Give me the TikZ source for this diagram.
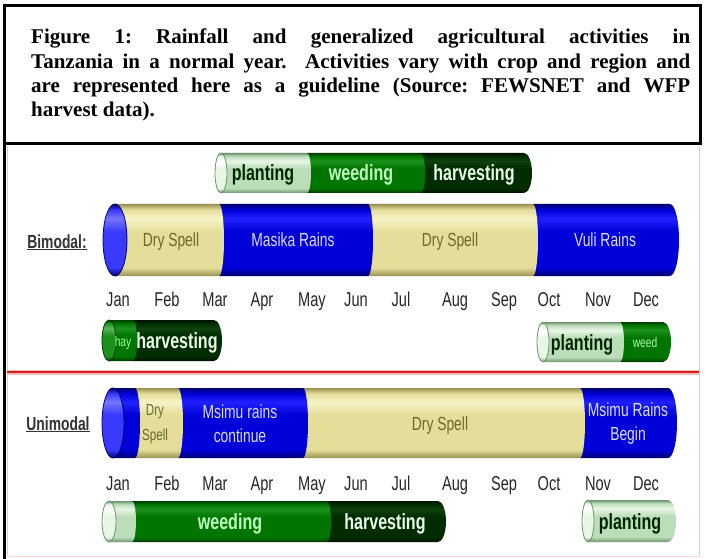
\documentclass[tikz,border=0pt]{standalone}
\usepackage{fontspec}
\setmainfont{Liberation Serif}
\newfontfamily\cond[FakeStretch=0.73]{Liberation Sans}
\definecolor{bluedk}{HTML}{000070}
\definecolor{bluebs}{HTML}{0000D8}
\definecolor{bluelt}{HTML}{2020FF}
\definecolor{bluefc}{HTML}{3A3AFF}
\definecolor{tandk}{HTML}{9A9250}
\definecolor{tanbs}{HTML}{E4DE9A}
\definecolor{tanlt}{HTML}{F6F4C6}
\definecolor{lgdk}{HTML}{6E926E}
\definecolor{lgbs}{HTML}{BCDDBA}
\definecolor{lglt}{HTML}{E8F6E5}
\definecolor{mgdk}{HTML}{003C00}
\definecolor{mgbs}{HTML}{007600}
\definecolor{mglt}{HTML}{1C921C}
\definecolor{dgdk}{HTML}{001200}
\definecolor{dgbs}{HTML}{002C00}
\definecolor{dglt}{HTML}{0E420E}
\definecolor{bluetxt}{HTML}{DCDCFF}
\definecolor{tantxt}{HTML}{6A6A30}
\definecolor{myred}{HTML}{D82020}
\newcommand\mkcyl[4]{\pgfdeclareverticalshading{#1}{100bp}{color(0bp)=(#2); color(25bp)=(#2); color(31bp)=(#3); color(56bp)=(#3); color(65bp)=(#4); color(71bp)=(#3); color(75bp)=(#2); color(100bp)=(#2)}}
\mkcyl{cylblue}{bluedk}{bluebs}{bluelt}
\mkcyl{cyltan}{tandk}{tanbs}{tanlt}
\mkcyl{cyllg}{lgdk}{lgbs}{lglt}
\mkcyl{cylmg}{mgdk}{mgbs}{mglt}
\mkcyl{cyldg}{dgdk}{dgbs}{dglt}
\mkcyl{faceblue}{bluedk}{bluefc}{bluefc!70!white}
\mkcyl{facelg}{lgdk}{lglt}{white}
\mkcyl{facemg}{mgdk}{mglt}{mglt!70!white}
% \seg{xL}{xR}{yc}{ry}{rx}{shading}
\newcommand\seg[6]{\shade[shading=#6] (#1,#3+#4) -- (#2,#3+#4) arc[start angle=90,end angle=-90,x radius=#5,y radius=#4] -- (#1,#3-#4) -- cycle;}
% \face{xc}{yc}{rx}{ry}{shading}{edge}
\newcommand\face[6]{\shadedraw[shading=#5, draw=#6, line width=0.8pt] (#1,#2) ellipse [x radius=#3, y radius=#4];}
\tikzset{
  mon/.style={font=\cond\fontsize{20}{20}\selectfont, text=black!85, inner sep=0pt, anchor=base},
  rlbl/.style={font=\cond\fontsize{19}{24}\selectfont, align=center, inner sep=0pt},
  onblue/.style={rlbl, text=bluetxt},
  ontan/.style={rlbl, text=tantxt},
  albl/.style={font=\cond\bfseries\fontsize{22}{22}\selectfont, inner sep=0pt, anchor=base},
  slbl/.style={font=\cond\fontsize{14}{14}\selectfont, inner sep=0pt, anchor=base},
  modelbl/.style={font=\cond\bfseries\fontsize{19}{19}\selectfont, text=black!80, inner sep=0pt, anchor=base},
}
\begin{document}
\begin{tikzpicture}[x=1pt,y=1pt]
\useasboundingbox (0,0) rectangle (705,-559);
\fill[white] (0,0) rectangle (705,-559);
% panel
\draw[black!18, line width=1pt] (7,-146) -- (7,-556) (699,-146) -- (699,-556);
\draw[red!18!white, line width=1.5pt] (7,-556.5) -- (699,-556.5);
% frame
\draw[black, line width=3pt] (4.5,-559) -- (4.5,-6) -- (700.5,-6) -- (700.5,-143.5) -- (4.5,-143.5);
% caption
\node[anchor=north west, inner sep=0pt, text width=659pt, align=justify,
      font=\bfseries\fontsize{21}{24.2}\selectfont] (cap) at (31,-29)
 {\frenchspacing\hbadness=10000 Figure 1: Rainfall and generalized agricultural activities in\linebreak
  Tanzania in a normal year.\ \ Activities vary with crop and region and\linebreak
  are represented here as a guideline (Source: FEWSNET and WFP\linebreak
  harvest data).\par};
% red divider
\draw[myred!30!white, line width=5pt] (7,-372) -- (699,-372);
\draw[myred, line width=2.4pt] (7,-372) -- (699,-372);
% ---------- Bimodal ----------
\node[modelbl] (bimod) at (57,-248) {\underline{Bimodal:}};
% top activity bar
\seg{421}{524}{-173}{20}{8}{cyldg}
\seg{307}{421}{-173}{20}{4}{cylmg}
\seg{221}{307}{-173}{20}{4}{cyllg}
\face{221}{-173}{6}{20}{facelg}{lgdk}
\node[albl, text=black!85!green] (bpl1) at (263,-181) {planting};
\node[albl, text=green!25!white] (bwd1) at (361,-181) {weeding};
\node[albl, text=green!8!white] (bhv1) at (474,-181) {harvesting};
% rain bar
\seg{533}{670}{-240}{36}{9}{cylblue}
\seg{368}{533}{-240}{36}{5}{cyltan}
\seg{219}{368}{-240}{36}{5}{cylblue}
\seg{115}{219}{-240}{36}{5}{cyltan}
\face{115}{-240}{12}{36}{faceblue}{bluedk}
\node[ontan, anchor=base] (bdry1) at (171,-247) {Dry Spell};
\node[onblue, anchor=base] (bmas) at (293,-247) {Masika Rains};
\node[ontan, anchor=base] (bdry2) at (450,-247) {Dry Spell};
\node[onblue, anchor=base] (bvul) at (605,-247) {Vuli Rains};
% months
\foreach \mx/\mname [count=\i] in {118/Jan,167/Feb,215/Mar,262/Apr,312/May,356/Jun,401/Jul,455/Aug,504/Sep,549/Oct,598/Nov,646/Dec}{
  \node[mon] (bm\i) at (\mx,-306) {\mname};
  \node[mon] (um\i) at (\mx,-490) {\mname};
}
% lower left bar
\seg{133}{214}{-340.5}{20.5}{8}{cyldg}
\seg{109}{133}{-340.5}{20.5}{4}{cylmg}
\face{109}{-340.5}{7}{20.5}{facemg}{mgdk}
\node[slbl, text=green!40!white] (bhay) at (123,-346) {hay};
\node[albl, text=green!8!white] (bhv2) at (177,-348.5) {harvesting};
% lower right bar
\seg{620}{663}{-342}{20}{8}{cylmg}
\seg{543}{620}{-342}{20}{4}{cyllg}
\face{543}{-342}{6}{20}{facelg}{lgdk}
\node[albl, text=black!85!green] (bpl2) at (582,-350) {planting};
\node[slbl, text=green!35!white] (bwd2) at (645,-347) {weed};
% ---------- Unimodal ----------
\node[modelbl] (unimod) at (58,-430) {\underline{Unimodal}};
\seg{580}{668}{-423}{35}{9}{cylblue}
\seg{303}{580}{-423}{35}{5}{cyltan}
\seg{178}{303}{-423}{35}{5}{cylblue}
\seg{135}{178}{-423}{35}{5}{cyltan}
\seg{113}{135}{-423}{35}{5}{cylblue}
\face{113}{-423}{11}{35}{faceblue}{bluedk}
\node[ontan, font=\cond\fontsize{16}{25}\selectfont] (udry1) at (155,-424) {Dry\\Spell};
\node[onblue] (ucont) at (240,-424) {Msimu rains\\continue};
\node[ontan, anchor=base] (udry2) at (440,-430) {Dry Spell};
\node[onblue] (ubeg) at (628,-424) {Msimu Rains\\Begin};
% weeding bar
\seg{327}{438}{-521.5}{20.5}{8}{cyldg}
\seg{132}{327}{-521.5}{20.5}{4}{cylmg}
\seg{109}{132}{-521.5}{20.5}{4}{cyllg}
\face{109}{-521.5}{7}{20.5}{facelg}{lgdk}
\node[albl, text=green!25!white] (uwd) at (230,-529.5) {weeding};
\node[albl, text=green!8!white] (uhv) at (385,-529.5) {harvesting};
% planting bar
\seg{588}{668}{-521}{21}{8}{cyllg}
\face{588}{-521}{6}{21}{facelg}{lgdk}
\node[albl, text=black!85!green] (upl) at (630,-529) {planting};
\end{tikzpicture}
\end{document}
